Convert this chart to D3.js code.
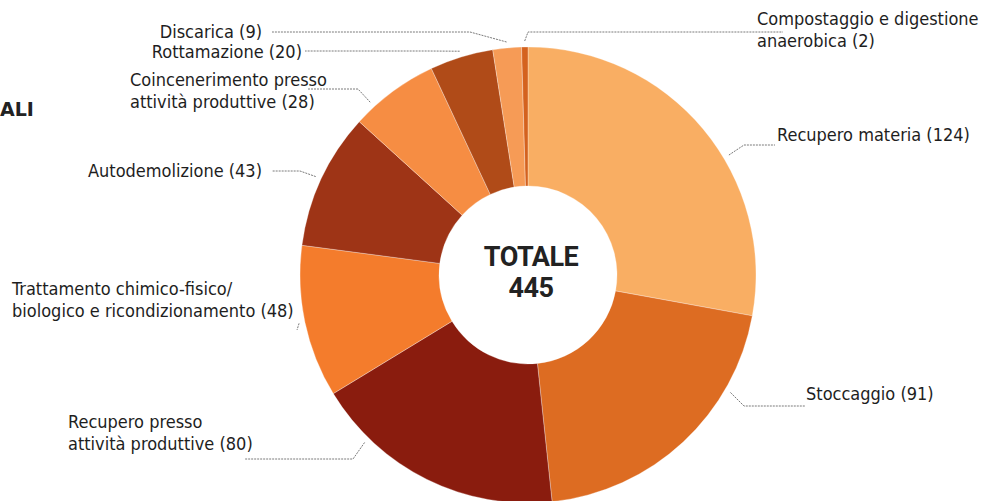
<!DOCTYPE html>
<html>
<head>
<meta charset="utf-8">
<script src="https://cdn.jsdelivr.net/npm/d3@7"></script>
<style>
  body { margin: 0; background: #fff; }
  svg { display: block; }
  .label { font-family: "DejaVu Sans Condensed", "DejaVu Sans", sans-serif; font-size: 18px; fill: #1e1e1e; }
</style>
</head>
<body>
<div id="chart"></div>
<script>
// Data (clockwise from 12 o'clock)
const categories = [
    ["Recupero materia"],
    ["Stoccaggio"],
    ["Recupero presso", "attività produttive"],
    ["Trattamento chimico-fisico/", "biologico e ricondizionamento"],
    ["Autodemolizione"],
    ["Coincenerimento presso", "attività produttive"],
    ["Rottamazione"],
    ["Discarica"],
    ["Compostaggio e digestione", "anaerobica"]
];
const values = [124, 91, 80, 48, 43, 28, 20, 9, 2];
const colors = ["#f9ae63", "#dd6c22", "#8a1c0e", "#f47c2c", "#9e3416", "#f68d43", "#b04b18", "#f69b56", "#d4621e"];
const totalLabel = "TOTALE";

const width = 985, height = 501;
const cx = 528, cy = 275;
const outerR = 228, innerR = 89;

// label layout: angle shift (deg) of the leader start, elbow, line end, text anchor point
const labelLayout = [
    {shift: 9,   elbow: [744, 145], end: [775, 145], tx: 777, ty: 141, anchor: "start"},
    {shift: -17, elbow: [744, 406], end: [805, 406], tx: 806, ty: 400, anchor: "start"},
    {shift: 18,  elbow: [353, 459], end: [245, 459], tx: 68,  ty: 428, anchor: "start"},
    {shift: 0,   elbow: [297, 330], end: [297, 330], tx: 12,  ty: 295, anchor: "start"},
    {shift: 0,   elbow: [300, 171], end: [272, 171], tx: 262, ty: 177, anchor: "end"},
    {shift: -6,  elbow: [358, 89],  end: [307, 89],  tx: 130, ty: 86,  anchor: "start"},
    {shift: 0,   elbow: [427, 51],  end: [305, 51],  tx: 302, ty: 58,  anchor: "end"},
    {shift: 0,   elbow: [470, 32],  end: [272, 32],  tx: 262, ty: 38,  anchor: "end"},
    {shift: 0,   elbow: [528, 32],  end: [783, 32],  tx: 757, ty: 25,  anchor: "start"}
];
const lineHeight = 22;

const data = values.map((v, i) => ({name: categories[i], value: v, color: colors[i], layout: labelLayout[i]}));
const total = d3.sum(values);

const svg = d3.select("#chart").append("svg")
    .attr("width", width)
    .attr("height", height);

// title fragment on the left edge
svg.append("text")
    .attr("x", 0)
    .attr("y", 116)
    .style("font-family", "'DejaVu Sans', sans-serif")
    .style("font-weight", "bold")
    .style("font-size", "19px")
    .style("fill", "#222")
    .text("ALI");

const pie = d3.pie().sort(null).value(d => d.value);
const arc = d3.arc().innerRadius(innerR).outerRadius(outerR);
const arcs = pie(data);

const g = svg.append("g").attr("transform", `translate(${cx},${cy})`);

g.selectAll("path.slice")
    .data(arcs)
    .enter()
    .append("path")
        .attr("class", "slice")
        .attr("d", arc)
        .attr("fill", d => d.data.color)
        .attr("stroke", "#fff")
        .attr("stroke-opacity", 0.5)
        .attr("stroke-width", 0.6);

// leader lines: start just outside the slice, then elbow, then horizontal to the label
const leaderR = outerR + 6;
arcs.forEach(d => {
    const L = d.data.layout;
    const a = (d.startAngle + d.endAngle) / 2 + L.shift * Math.PI / 180;
    const sx = cx + leaderR * Math.sin(a);
    const sy = cy - leaderR * Math.cos(a);
    svg.append("polyline")
        .attr("points", [[sx, sy], L.elbow, L.end].map(p => p.join(",")).join(" "))
        .attr("fill", "none")
        .attr("stroke", "#7a7a7a")
        .attr("stroke-width", 1)
        .attr("stroke-dasharray", "2,1");

    const lines = d.data.name.slice();
    lines[lines.length - 1] += ` (${d.data.value})`;
    const t = svg.append("text")
        .attr("class", "label")
        .attr("text-anchor", L.anchor);
    lines.forEach((s, k) => {
        t.append("tspan")
            .attr("x", L.tx)
            .attr("y", L.ty + k * lineHeight)
            .text(s);
    });
});

// centre total
const centre = svg.append("text")
    .attr("text-anchor", "middle")
    .style("font-family", "Roboto, sans-serif")
    .style("font-weight", "bold")
    .style("font-size", "27px")
    .style("letter-spacing", "-0.5px")
    .style("fill", "#222");
centre.append("tspan").attr("x", cx + 3).attr("y", cy - 9).text(totalLabel);
centre.append("tspan").attr("x", cx + 3).attr("y", cy + 22).text(total);
</script>
</body>
</html>
